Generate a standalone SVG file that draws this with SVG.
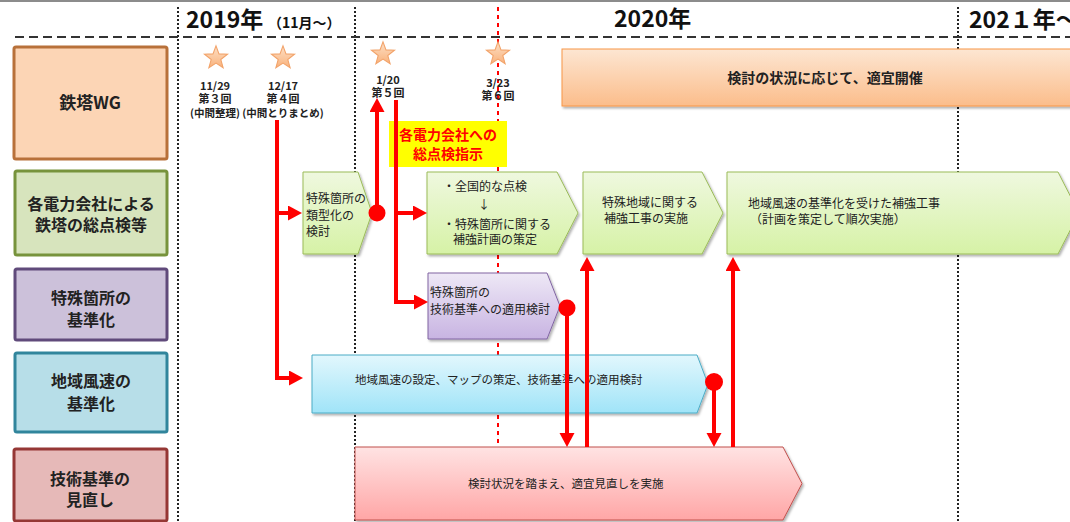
<svg xmlns="http://www.w3.org/2000/svg" width="1070" height="522" viewBox="0 0 1070 522">
<style>
text{font-family:"Noto Sans CJK JP","Noto Sans",sans-serif;fill:#222}
.hdr{font-size:23px;font-weight:bold;fill:#111}
.lbl{font-size:16px;font-weight:bold;text-anchor:middle;fill:#222}
.st{font-size:11px;font-weight:bold;text-anchor:middle;fill:#222}
.bx{font-size:12px;fill:#222}
.sm{font-size:11.5px}
.conn{fill:none;stroke:#ff0000;stroke-width:4}
.vdot{stroke:#222;stroke-width:2;stroke-dasharray:2 2}
</style>
<defs>
<marker id="ah" markerUnits="userSpaceOnUse" markerWidth="16" markerHeight="16" refX="4" refY="7.5" orient="auto">
<path d="M0,0 L14,7.5 L0,15 z" fill="#ff0000"/>
</marker>
<filter id="sh" x="-5%" y="-10%" width="115%" height="130%">
<feDropShadow dx="1.5" dy="2" stdDeviation="1.2" flood-color="#000" flood-opacity="0.3"/>
</filter>
<linearGradient id="gGreen" x1="0" y1="0" x2="0" y2="1"><stop offset="0" stop-color="#eff8df"/><stop offset="1" stop-color="#d6f2a6"/></linearGradient>
<linearGradient id="gPurple" x1="0" y1="0" x2="0" y2="1"><stop offset="0" stop-color="#eee8f6"/><stop offset="1" stop-color="#c8b4e2"/></linearGradient>
<linearGradient id="gCyan" x1="0" y1="0" x2="0" y2="1"><stop offset="0" stop-color="#e2f7fd"/><stop offset="1" stop-color="#a0e4f8"/></linearGradient>
<linearGradient id="gRed" x1="0" y1="0" x2="0" y2="1"><stop offset="0" stop-color="#ffe3e3"/><stop offset="1" stop-color="#ffa6a6"/></linearGradient>
<linearGradient id="gOrange" x1="0" y1="0" x2="0" y2="1"><stop offset="0" stop-color="#fde6d2"/><stop offset="1" stop-color="#fbbd8b"/></linearGradient>
<linearGradient id="gStar" x1="0" y1="0" x2="0" y2="1"><stop offset="0" stop-color="#fde0c6"/><stop offset="1" stop-color="#f9b27c"/></linearGradient>
<path id="star" d="M0,-11 L2.70,-3.72 L10.46,-3.40 L4.37,1.42 L6.47,8.90 L0,4.6 L-6.47,8.90 L-4.37,1.42 L-10.46,-3.40 L-2.70,-3.72 Z" fill="url(#gStar)" stroke="#f2a36a" stroke-width="1"/>
</defs>

<rect width="1070" height="522" fill="#fff"/>
<line x1="0" y1="1" x2="1070" y2="1" stroke="#8c8c8c" stroke-width="2"/>

<g id="timeline">
<line x1="178" y1="7" x2="178" y2="522" class="vdot"/>
<line x1="355" y1="7" x2="355" y2="522" class="vdot"/>
<line x1="958" y1="7" x2="958" y2="522" class="vdot"/>
<line x1="498" y1="7" x2="498" y2="447" stroke="#ff0000" stroke-width="2" stroke-dasharray="4 4"/>
<line x1="15" y1="37" x2="1070" y2="37" stroke="#333" stroke-width="2" stroke-dasharray="9 5"/>
<text x="186" y="28" class="hdr">2019年</text>
<text x="268" y="28" style="font-size:14px;font-weight:bold;fill:#111">（11月～）</text>
<text x="614" y="27" class="hdr">2020年</text>
<text x="969" y="28" class="hdr">202１年～</text>
</g>

<g id="row-labels">
<g id="lbl-wg"><rect x="14" y="47" width="153" height="112" rx="2" fill="#fcd5b5" stroke="#b8713a" stroke-width="3"/><text x="90" y="109" class="lbl" style="font-size:17px">鉄塔WG</text></g>
<g id="lbl-check"><rect x="15" y="171" width="152" height="84" rx="2" fill="#d7e4bd" stroke="#77933c" stroke-width="3"/><text x="91" y="210" class="lbl">各電力会社による</text><text x="91" y="231" class="lbl">鉄塔の総点検等</text></g>
<g id="lbl-special"><rect x="15" y="269" width="152" height="71" rx="2" fill="#ccc1da" stroke="#604a7b" stroke-width="3"/><text x="91" y="304" class="lbl">特殊箇所の</text><text x="91" y="326" class="lbl">基準化</text></g>
<g id="lbl-wind"><rect x="15" y="353" width="152" height="79" rx="2" fill="#b7dee8" stroke="#31859c" stroke-width="3"/><text x="91" y="387" class="lbl">地域風速の</text><text x="91" y="410" class="lbl">基準化</text></g>
<g id="lbl-std"><rect x="14" y="449" width="153" height="72" rx="2" fill="#e6b9b8" stroke="#953735" stroke-width="3"/><text x="90" y="485" class="lbl">技術基準の</text><text x="90" y="506" class="lbl">見直し</text></g>
</g>

<g id="milestones">
<g id="m1"><use href="#star" transform="translate(216,58) scale(1.1)"/><text x="215" y="90" class="st">11/29</text><text x="215" y="103" class="st">第３回</text><text x="215" y="117" class="st" style="font-size:10.5px">(中間整理)</text></g>
<g id="m2"><use href="#star" transform="translate(283,58) scale(1.1)"/><text x="283" y="90" class="st">12/17</text><text x="283" y="103" class="st">第４回</text><text x="283" y="117" class="st" style="font-size:10.5px">(中間とりまとめ)</text></g>
<g id="m3"><use href="#star" transform="translate(383,54) scale(1.1)"/><text x="388" y="84" class="st">1/20</text><text x="388" y="97" class="st">第５回</text></g>
<g id="m4"><use href="#star" transform="translate(498,54) scale(1.1)"/><text x="498" y="87" class="st">3/23</text><text x="498" y="100" class="st">第６回</text></g>
</g>

<g id="node-wg-bar"><rect x="562" y="49" width="520" height="57" fill="url(#gOrange)" stroke="#f79646" stroke-width="1" filter="url(#sh)"/><text x="825" y="83" text-anchor="middle" style="font-size:14px;font-weight:bold;fill:#222">検討の状況に応じて、適宜開催</text></g>

<g id="node-instruction"><rect x="389" y="121" width="118" height="46" fill="#ffff00"/><text x="448" y="140" text-anchor="middle" style="font-size:14px;font-weight:bold;fill:#ff0000">各電力会社への</text><text x="448" y="159" text-anchor="middle" style="font-size:14px;font-weight:bold;fill:#ff0000">総点検指示</text></g>

<g id="node-typify"><path d="M303,172 H358 L372,213 L358,254 H303 Z" fill="url(#gGreen)" stroke="#9bbb59" stroke-width="1" filter="url(#sh)"/><text x="306" y="203" class="bx">特殊箇所の</text><text x="306" y="220" class="bx">類型化の</text><text x="306" y="236" class="bx">検討</text></g>

<g id="node-inspect"><path d="M427,172 H557 L578,213 L557,254 H427 Z" fill="url(#gGreen)" stroke="#9bbb59" stroke-width="1" filter="url(#sh)"/><text x="443" y="191" class="bx">・全国的な点検</text><text x="484" y="209" class="bx" text-anchor="middle">↓</text><text x="443" y="229" class="bx">・特殊箇所に関する</text><text x="453" y="244" class="bx">補強計画の策定</text></g>

<g id="node-special-works"><path d="M583,172 H702 L723,213 L702,254 H583 Z" fill="url(#gGreen)" stroke="#9bbb59" stroke-width="1" filter="url(#sh)"/><text x="602" y="207" class="bx">特殊地域に関する</text><text x="604" y="223" class="bx">補強工事の実施</text></g>

<g id="node-wind-works"><path d="M727,172 H1058 L1079,213 L1058,254 H727 Z" fill="url(#gGreen)" stroke="#9bbb59" stroke-width="1" filter="url(#sh)"/><text x="748" y="208" class="bx">地域風速の基準化を受けた補強工事</text><text x="750" y="224" class="bx">（計画を策定して順次実施）</text></g>

<g id="node-special-std"><path d="M428,273 H547 L560,306 L547,339 H428 Z" fill="url(#gPurple)" stroke="#8064a2" stroke-width="1" filter="url(#sh)"/><text x="430" y="297" class="bx">特殊箇所の</text><text x="430" y="314" class="bx">技術基準への適用検討</text></g>

<g id="node-wind-std"><path d="M312,355 H697 L708,384 L697,413 H312 Z" fill="url(#gCyan)" stroke="#4bacc6" stroke-width="1" filter="url(#sh)"/><text x="355" y="384" class="bx sm">地域風速の設定、マップの策定、技術基準への適用検討</text></g>

<g id="node-review"><path d="M355,447 H783 L802,483.5 L783,520 H355 Z" fill="url(#gRed)" stroke="#c0504d" stroke-width="1" filter="url(#sh)"/><text x="468" y="488" class="bx sm">検討状況を踏まえ、適宜見直しを実施</text></g>

<g id="connectors">
<path class="conn" d="M277,120 V378 H293" marker-end="url(#ah)"/>
<path class="conn" d="M277,213 H292" marker-end="url(#ah)"/>
<path class="conn" d="M377,213 V108" marker-end="url(#ah)"/>
<path class="conn" d="M396,100 V302 H418" marker-end="url(#ah)"/>
<path class="conn" d="M396,213 H417" marker-end="url(#ah)"/>
<path class="conn" d="M567,308 V437" marker-end="url(#ah)"/>
<path class="conn" d="M714,382 V437" marker-end="url(#ah)"/>
<path class="conn" d="M587,447 V267" marker-end="url(#ah)"/>
<path class="conn" d="M733,447 V267" marker-end="url(#ah)"/>
<circle cx="377" cy="213" r="8.5" fill="#ff0000"/>
<circle cx="567" cy="308" r="8.5" fill="#ff0000"/>
<circle cx="714" cy="382" r="9" fill="#ff0000"/>
</g>
</svg>
